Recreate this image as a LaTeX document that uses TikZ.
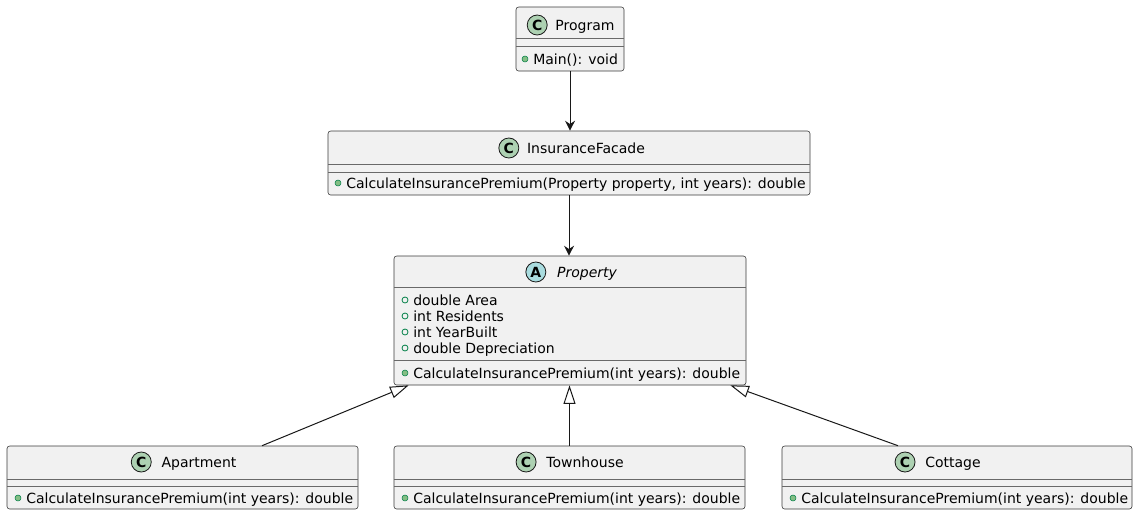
\documentclass[tikz,border=0pt]{standalone}
\usepackage{fontspec}
\setmainfont{DejaVu Sans}
\usetikzlibrary{arrows.meta,fit,calc,positioning}
\definecolor{boxfill}{HTML}{F1F1F1}
\definecolor{boxline}{HTML}{181818}
\definecolor{cgreen}{HTML}{ADD1B2}
\definecolor{acyan}{HTML}{A9DCDF}
\definecolor{visfill}{HTML}{84BE84}
\definecolor{visline}{HTML}{038048}
\tikzset{
  umlbox/.style={draw=boxline!85, line width=0.45pt, fill=boxfill, rounded corners=2pt, inner sep=0pt},
  sepline/.style={draw=boxline!65, line width=0.5pt},
  txt/.style={inner sep=0pt, font=\fontsize{10.5}{12}\selectfont, text=black},
  ttl/.style={txt, anchor=base},
  mem/.style={txt, anchor=base west},
  icon/.style={circle, draw=boxline, line width=0.6pt, minimum size=15pt, inner sep=0pt, font=\fontsize{10.5}{12}\selectfont\bfseries},
  cicon/.style={icon, fill=cgreen},
  aicon/.style={icon, fill=acyan},
  pubm/.style={circle, fill=visfill, draw=visline, line width=0.4pt, minimum size=4.5pt, inner sep=0pt},
  pubf/.style={circle, fill=none, draw=visline, line width=0.6pt, minimum size=4.5pt, inner sep=0pt},
  assoc/.style={draw=boxline, line width=0.75pt, -{Stealth[length=7.5pt,width=7.5pt,inset=2.5pt]}},
  inh/.style={draw=boxline, line width=0.75pt, -{Triangle[length=14pt,width=9pt,fill=white]}},
}
\begin{document}
\begin{tikzpicture}[x=0.75pt,y=-0.75pt]
\useasboundingbox (0,0) rectangle (1138,515);

% ---- Program
\node[umlbox, fit={(516,7) (624,71)}] (prog) {};
\draw[sepline] (516,38) -- (624,38);
\draw[sepline] (516,46) -- (624,46);
\node[ttl] (progname) at (585,30) {Program};
\node[cicon] (progicon) at ($(progname.base west)+(-18,-5)$) {C};
\node[pubm] (progv1) at (525,59) {};
\node[mem] (progm1) at (533,64) {Main(): void};

% ---- InsuranceFacade
\node[umlbox, fit={(328,131) (810,195)}] (ifc) {};
\draw[sepline] (328,164) -- (810,164);
\draw[sepline] (328,172) -- (810,172);
\node[ttl] (ifcname) at (586,153) {InsuranceFacade};
\node[cicon] (ifcicon) at ($(ifcname.base west)+(-18,-5)$) {C};
\node[pubm] (ifcv1) at (338,183) {};
\node[mem] (ifcm1) at (346,188) {CalculateInsurancePremium(Property property, int years): double};

% ---- Property
\node[umlbox, fit={(394,256) (746,385)}] (prop) {};
\draw[sepline] (394,287) -- (746,287);
\draw[sepline] (394,360) -- (746,360);
\node[ttl, font=\fontsize{10.5}{12}\selectfont\itshape] (propname) at (587,277) {Property};
\node[aicon] (propicon) at ($(propname.base west)+(-21,-5)$) {A};
\node[pubf] (propv1) at (405,300) {};
\node[mem] (propf1) at (413,305) {double Area};
\node[pubf] (propv2) at (405,316) {};
\node[mem] (propf2) at (413,321) {int Residents};
\node[pubf] (propv3) at (405,332) {};
\node[mem] (propf3) at (413,337) {int YearBuilt};
\node[pubf] (propv4) at (405,348) {};
\node[mem] (propf4) at (413,353) {double Depreciation};
\node[pubm] (propv5) at (405,373) {};
\node[mem] (propm1) at (413,378) {CalculateInsurancePremium(int years): double};

% ---- Apartment
\node[umlbox, fit={(7,446) (358,509)}] (apt) {};
\draw[sepline] (7,479) -- (358,479);
\draw[sepline] (7,486) -- (358,486);
\node[ttl] (aptname) at (199,467) {Apartment};
\node[cicon] (apticon) at ($(aptname.base west)+(-20,-5)$) {C};
\node[pubm] (aptv1) at (18,498) {};
\node[mem] (aptm1) at (26,503) {CalculateInsurancePremium(int years): double};

% ---- Townhouse
\node[umlbox, fit={(394,446) (745,509)}] (town) {};
\draw[sepline] (394,479) -- (745,479);
\draw[sepline] (394,486) -- (745,486);
\node[ttl] (townname) at (585,467) {Townhouse};
\node[cicon] (townicon) at ($(townname.base west)+(-20,-5)$) {C};
\node[pubm] (townv1) at (405,498) {};
\node[mem] (townm1) at (413,503) {CalculateInsurancePremium(int years): double};

% ---- Cottage
\node[umlbox, fit={(782,446) (1132,509)}] (cot) {};
\draw[sepline] (782,479) -- (1132,479);
\draw[sepline] (782,486) -- (1132,486);
\node[ttl] (cotname) at (953,467) {Cottage};
\node[cicon] (coticon) at ($(cotname.base west)+(-20,-5)$) {C};
\node[pubm] (cotv1) at (793,498) {};
\node[mem] (cotm1) at (801,503) {CalculateInsurancePremium(int years): double};

% ---- connectors
\draw[assoc] (prog.south) -- (prog.south |- ifc.north);
\draw[assoc] (ifc.south) -- (ifc.south |- prop.north);
\draw[inh] ($(apt.north)+(79.5,0)$) -- ($(prop.south west)+(15,0)$);
\draw[inh] (town.north) -- (town.north |- prop.south);
\draw[inh] ($(cot.north)+(-59,0)$) -- ($(prop.south east)+(-16,0)$);
\end{tikzpicture}
\end{document}
